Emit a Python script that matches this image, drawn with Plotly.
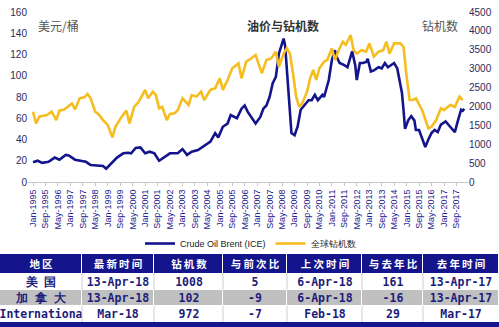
import plotly.graph_objects as go

# ---------------- data ----------------
brent_dates = ["1995-01","1995-04","1995-07","1995-11","1996-03","1996-06","1996-10","1996-12",
    "1997-04","1997-08","1997-11","1998-02","1998-07","1998-10","1998-12","1999-03","1999-07",
    "1999-11","2000-02","2000-04","2000-07","2000-10","2001-01","2001-04","2001-07","2001-10",
    "2002-01","2002-05","2002-10","2003-01","2003-04","2003-07","2003-11","2004-03","2004-07",
    "2004-10","2004-12","2005-03","2005-06","2005-08","2005-12","2006-03","2006-05","2006-07",
    "2006-10","2006-12","2007-03","2007-05","2007-07","2007-09","2007-11","2008-01","2008-03",
    "2008-06","2008-07","2008-09","2008-11","2009-01","2009-03","2009-05","2009-07","2009-10",
    "2009-12","2010-02","2010-04","2010-07","2010-08","2010-11","2011-01","2011-03","2011-04",
    "2011-06","2011-09","2011-11","2012-02","2012-04","2012-05","2012-07","2012-09","2012-11",
    "2012-12","2013-02","2013-04","2013-07","2013-09","2013-11","2014-01","2014-03","2014-05",
    "2014-07","2014-08","2014-10","2014-11","2014-12","2015-02","2015-04","2015-06","2015-07",
    "2015-09","2015-12","2016-01","2016-03","2016-05","2016-07","2016-09","2016-11","2017-02",
    "2017-05","2017-08","2017-10","2017-12","2018-01","2018-02"]
brent_values = [18.5,20,18,19,23,21,25.5,25,
    21,20,19,16,15,15,12.5,17,23,
    27,27.5,27,32,32.5,27,28.5,27,20,
    23,27,27,31,25.5,28.5,30,34,38,
    46,42,52,55,63,60,69,72,66,
    60,55,61,69,72,80,93,99,121,
    135,128,90,46,44,52,68,72,77,
    77,82,77,82,80,96,115,124,118,
    112,110,108,123,110,96,112,112,113,
    116,104,105,108,107,112,108,110,112,
    107,98,84,68,50,58,62,58,49,
    49,36,33,40,46,49,47,54,57,
    52,47,58,68,67,69,67]

rig_dates = ["1995-01","1995-03","1995-05","1995-10","1996-01","1996-04","1996-06","1996-09",
    "1997-02","1997-04","1997-07","1997-10","1997-12","1998-02","1998-05","1998-07","1998-10",
    "1999-01","1999-04","1999-06","1999-10","2000-01","2000-03","2000-06","2000-09","2001-01",
    "2001-03","2001-06","2001-08","2001-10","2001-12","2002-03","2002-05","2002-08","2002-10",
    "2003-01","2003-05","2003-07","2003-10","2004-01","2004-03","2004-07","2004-10","2005-01",
    "2005-03","2005-06","2005-09","2006-01","2006-03","2006-06","2006-09","2006-12","2007-04",
    "2007-07","2007-10","2008-01","2008-03","2008-06","2008-08","2008-10","2008-12","2009-02",
    "2009-04","2009-06","2009-09","2009-11","2010-01","2010-03","2010-05","2010-08","2010-10",
    "2011-01","2011-03","2011-05","2011-08","2011-10","2012-01","2012-03","2012-05","2012-08",
    "2012-11","2013-01","2013-04","2013-07","2013-10","2013-12","2014-02","2014-05","2014-09",
    "2014-11","2015-01","2015-03","2015-05","2015-07","2015-11","2016-03","2016-05","2016-08",
    "2016-11","2017-01","2017-05","2017-08","2017-11","2018-01"]
rig_values = [1860,1550,1730,1770,1860,1640,1890,1920,
    2080,1920,2215,2240,2330,2215,1860,1800,1640,
    1510,1180,1460,1730,1890,1550,1990,2130,2440,
    2215,2390,2300,1950,1990,1640,1800,1820,1900,
    2215,2040,2300,2260,2390,2170,2440,2480,2745,
    2440,2700,3010,3140,2745,3185,3270,3360,2880,
    3230,3270,3450,3050,3400,3540,3400,2880,2260,
    1990,2080,2390,2745,2965,2700,3010,3185,3230,
    3540,3230,3450,3715,3630,3890,3490,3400,3490,
    3450,3670,3320,3450,3490,3715,3400,3670,3670,
    3580,2790,2170,2170,2215,1900,1420,1460,1640,
    1950,1900,2040,1990,2260,2170]

table_header = ["地区", "最新时间", "钻机数", "与前次比", "上次时间", "与去年比", "去年时间"]
table_region = ["美国", "加拿大", "Internationa"]
table_latest = ["13-Apr-18", "13-Apr-18", "Mar-18"]
table_rigs = ["1008", "102", "972"]
table_vs_prev = ["5", "-9", "-7"]
table_prev_time = ["6-Apr-18", "6-Apr-18", "Feb-18"]
table_vs_year = ["161", "-16", "29"]
table_year_time = ["13-Apr-17", "13-Apr-17", "Mar-17"]

# ---------------- styling / layout constants ----------------
NAVY = "#14148c"
GOLD = "#f5bd1f"
TXT = "#1c1c7a"
W, H = 499, 327
COL_EDGES = [0, 82, 154, 223, 287, 362, 423, 499]     # table column borders (px)
HEAD_EDGES = [0, 19]                                   # header row (px from table top)
BODY_EDGES = [19, 36, 52, 68]                          # body rows


def px_x(p):
    return p / W


def px_y(p):
    return 1 - p / H


def spaced(s):
    return "\u2009".join(s)


fig = go.Figure()
fig.add_trace(go.Scatter(x=brent_dates, y=brent_values, name="Crude Oil Brent (ICE)",
                         mode="lines", line=dict(color=NAVY, width=2.6), yaxis="y"))
fig.add_trace(go.Scatter(x=rig_dates, y=rig_values, name="全球钻机数",
                         mode="lines", line=dict(color=GOLD, width=2.6), yaxis="y2"))

# ---------------- table drawn as two heatmaps ----------------
head_text = [["<b>" + spaced(h) + "</b>" for h in table_header]]
cols = [table_region, table_latest, table_rigs, table_vs_prev, table_prev_time, table_vs_year, table_year_time]
body_text = [["<b>" + (spaced(c[r]) if c[r] in ("美国", "加拿大") else c[r]) + "</b>" for c in cols]
             for r in range(3)]
body_shade = [[0] * 7, [1] * 7, [0] * 7]

fig.add_trace(go.Heatmap(
    x=COL_EDGES, y=HEAD_EDGES, z=[[0] * 7], text=head_text, texttemplate="%{text}",
    colorscale=[[0, NAVY], [1, NAVY]], showscale=False, xgap=1, ygap=0,
    textfont=dict(family="Noto Sans CJK SC", size=10.5, color="white"),
    hoverinfo="skip", xaxis="x3", yaxis="y3", showlegend=False))
fig.add_trace(go.Heatmap(
    x=COL_EDGES, y=BODY_EDGES, z=body_shade, text=body_text, texttemplate="%{text}",
    colorscale=[[0, "white"], [0.5, "white"], [0.5, "#c0c0c0"], [1, "#c0c0c0"]],
    zmin=0, zmax=1, showscale=False, xgap=1, ygap=1,
    textfont=dict(family="DejaVu Sans Mono", size=11.5, color=TXT),
    hoverinfo="skip", xaxis="x3", yaxis="y3", showlegend=False))

shapes = [dict(type="rect", xref="paper", yref="paper", x0=0, x1=1,
               y0=0, y1=px_y(322), fillcolor=NAVY, line=dict(width=0))]
# light grey separators inside the white rows
for xe in COL_EDGES[1:-1]:
    for (r0, r1) in ((BODY_EDGES[0], BODY_EDGES[1]), (BODY_EDGES[2], BODY_EDGES[3])):
        shapes.append(dict(type="line", xref="x3", yref="y3", x0=xe, x1=xe, y0=r0, y1=r1,
                           line=dict(color="#cfcfcf", width=1)))

fig.update_layout(
    width=W, height=H, margin=dict(l=0, r=0, t=0, b=0),
    paper_bgcolor="white", plot_bgcolor="white",
    showlegend=True,
    legend=dict(orientation="h", x=px_x(140), y=px_y(229), xanchor="left", yanchor="top",
                font=dict(size=9, family="Arial", color="#222"), bgcolor="rgba(0,0,0,0)",
                itemwidth=30),
    xaxis=dict(domain=[px_x(28), px_x(468)], type="date",
               range=["1994-09-25", "2018-04-15"],
               tick0="1995-01-01", dtick="M8", tickformat="%b-%Y", tickangle=-90,
               tickfont=dict(size=9, family="Arial", color="#1c1c8c"),
               showgrid=False, showline=True, linecolor="#c8c8c8", linewidth=1,
               ticks="outside", ticklen=3, tickcolor="#c8c8c8", automargin=False),
    yaxis=dict(domain=[px_y(182), px_y(12)], range=[0, 160], dtick=20,
               showgrid=False, zeroline=False, showline=False,
               tickfont=dict(size=10, family="Arial", color="#2a2a60"), automargin=False),
    yaxis2=dict(overlaying="y", side="right", range=[0, 4500], dtick=500,
                showgrid=False, zeroline=False, showline=False,
                tickfont=dict(size=10, family="Arial", color="#2a2a60"), automargin=False),
    xaxis3=dict(domain=[0, 1], range=[COL_EDGES[0], COL_EDGES[-1]], visible=False,
                anchor="y3", fixedrange=True),
    yaxis3=dict(domain=[px_y(322), px_y(254)], range=[BODY_EDGES[-1], HEAD_EDGES[0]],
                visible=False, anchor="x3", fixedrange=True),
    annotations=[
        dict(text="<b>油价与钻机数</b>", x=px_x(283), y=px_y(15), xref="paper", yref="paper",
             showarrow=False, font=dict(size=12, family="Noto Sans CJK SC", color="#333")),
        dict(text="美元/桶", x=px_x(36), y=px_y(15), xref="paper", yref="paper", xanchor="left",
             showarrow=False, font=dict(size=12, family="Noto Sans CJK SC", color="#555")),
        dict(text="钻机数", x=px_x(460), y=px_y(15), xref="paper", yref="paper", xanchor="right",
             showarrow=False, font=dict(size=12, family="Noto Sans CJK SC", color="#555")),
    ],
    shapes=shapes,
)

fig.write_html("out.html")
